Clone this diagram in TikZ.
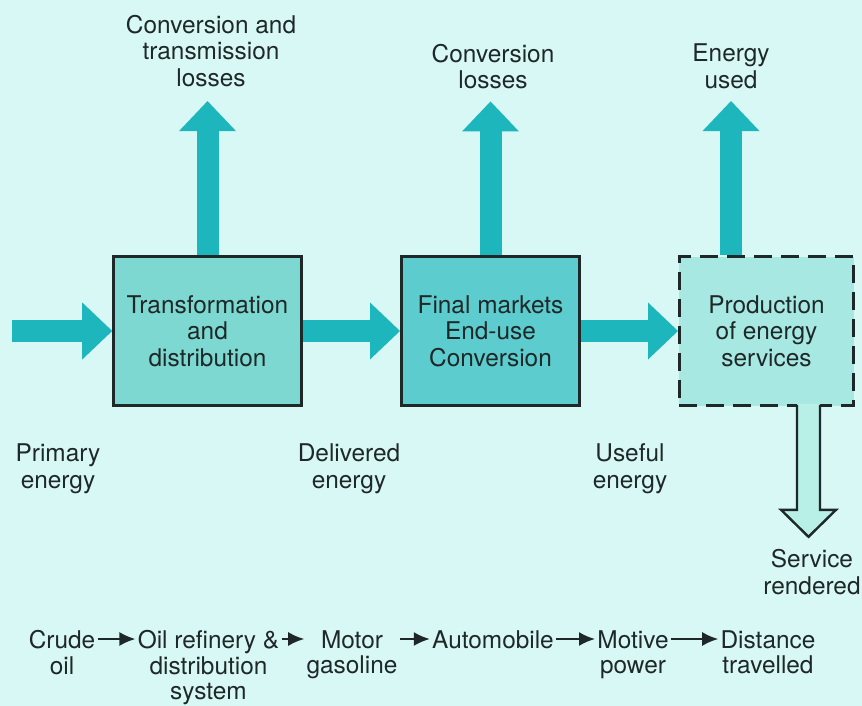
\documentclass[tikz,border=0pt]{standalone}
\usepackage{fontspec}
\setmainfont{TeX Gyre Heros}
\usetikzlibrary{arrows.meta}
\definecolor{paper}{RGB}{216,248,246}
\definecolor{flowcol}{RGB}{28,182,188}
\definecolor{boxline}{RGB}{30,40,40}
\definecolor{lightbox}{RGB}{124,216,208}
\definecolor{darkbox}{RGB}{92,204,206}
\definecolor{palebox}{RGB}{168,232,226}
\definecolor{hollowfill}{RGB}{184,240,232}

\begin{document}
\begin{tikzpicture}[x=0.5pt, y=-0.5pt,
   every node/.style={font=\fontsize{12.2}{13.3}\selectfont, text=boxline},
   stage/.style={draw=boxline, line width=1.3pt, align=center, inner sep=0pt},
   flow/.style={draw=flowcol, line width=11pt,
      -{Triangle[length=15pt, width=28.5pt, line width=0pt]}},
   caption/.style={align=center, inner sep=0pt, anchor=north},
   chain/.style={draw=boxline, line width=1pt, -{Latex[length=8pt, width=7pt]}}]

\fill[paper] (0,0) rectangle (862,706);
\useasboundingbox (0,0) rectangle (862,706);

% the three stages
\node[stage, fill=lightbox, minimum width=94pt, minimum height=74.5pt]
   (transform) at (207.5,331) {Transformation\\and\\distribution};
\node[stage, fill=darkbox, minimum width=89.2pt, minimum height=74.5pt]
   (markets) at (490.5,331) {Final markets\\End-use\\Conversion};
\node[stage, fill=palebox, dash pattern=on 9pt off 4.5pt,
   minimum width=87.2pt, minimum height=74.5pt]
   (prod) at (766.5,331) {Production\\of energy\\services};

% losses on top
\node[caption] (loss1) at (211,14.5) {Conversion and\\transmission\\losses};
\node[caption] (loss2) at (493,43.5) {Conversion\\losses};
\node[caption] (used) at (731,43.5) {Energy\\used};

% energy forms below
\node[caption] (primary) at (58,443.5) {Primary\\energy};
\node[caption] (delivered) at (349,443.5) {Delivered\\energy};
\node[caption] (useful) at (630,443.5) {Useful\\energy};
\node[caption] (service) at (812,549) {Service\\rendered};

\coordinate (source) at (12,331);

\path
	(source) edge[flow] (transform)
	(transform) edge[flow] (markets)
	(markets) edge[flow] (prod)
	(transform.north) edge[flow, shorten >=7pt] (transform.north |- loss1.south)
	(markets.north) edge[flow, shorten >=6pt] (markets.north |- loss2.south)
	(used.south |- prod.north) edge[flow, shorten >=6pt] (used.south)
;

% hollow arrow for the service
\fill[hollowfill] (prod.south) ++(30.5,-3) -- ++(0,106) -- ++(-16,0)
   -- ++(27.5,27) -- ++(27.5,-27) -- ++(-16,0) -- ++(0,-106) -- cycle;
\draw[boxline, line width=1.2pt, line join=miter] (prod.south) ++(30.5,-2) -- ++(0,105)
   -- ++(-16,0) -- ++(27.5,27) -- ++(27.5,-27) -- ++(-16,0) -- ++(0,-105);

% example chain
\begin{scope}[every node/.append style={font=\fontsize{12.2}{12.7}\selectfont}]
\node[caption, inner xsep=1pt] (crude) at (62,630) {Crude\\oil};
\node[caption, inner xsep=1pt] (refinery) at (208.5,630) {Oil refinery \&\\distribution\\system};
\node[caption, inner xsep=1pt] (gasoline) at (352,630) {Motor\\gasoline};
\node[caption, inner xsep=1pt] (auto) at (493,630) {Automobile};
\node[caption, inner xsep=1pt] (motive) at (633,630) {Motive\\power};
\node[caption, inner xsep=1pt] (distance) at (768,630) {Distance\\travelled};
\end{scope}

\path
	([yshift=-4.5pt]crude.north east) edge[chain] ([yshift=-4.5pt]refinery.north west)
	([yshift=-4.5pt]refinery.north east) edge[chain] ([yshift=-4.5pt]gasoline.north west)
	([yshift=-4.5pt]gasoline.north east) edge[chain] ([yshift=-4.5pt]auto.north west)
	([yshift=-4.5pt]auto.north east) edge[chain] ([yshift=-4.5pt]motive.north west)
	([yshift=-4.5pt]motive.north east) edge[chain] ([yshift=-4.5pt]distance.north west)
;

\end{tikzpicture}
\end{document}
